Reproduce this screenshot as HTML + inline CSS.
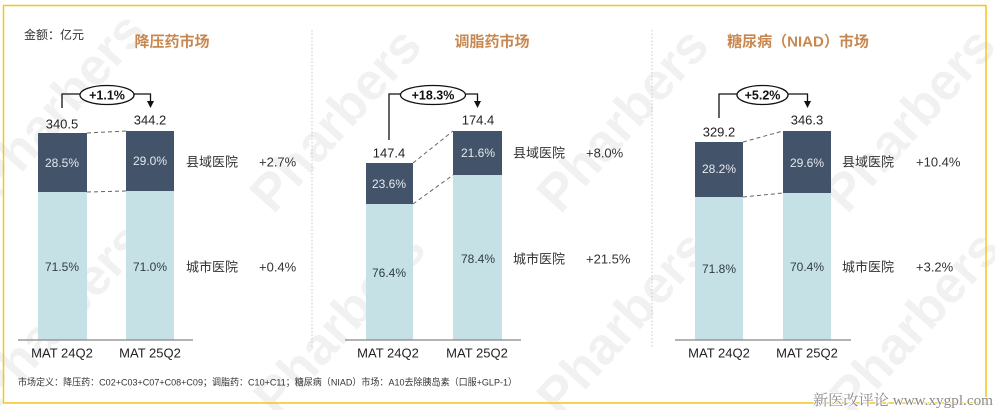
<!DOCTYPE html>
<html><head><meta charset="utf-8"><style>
html,body{margin:0;padding:0;background:#fff;}
svg{display:block;}
text{font-family:"Liberation Sans","Noto Sans CJK SC",sans-serif;}
</style></head><body>
<svg width="995" height="410" viewBox="0 0 995 410" xmlns="http://www.w3.org/2000/svg">
<rect width="995" height="410" fill="#fff"/>
<!-- watermarks -->
<g fill="#000" fill-opacity="0.055" font-weight="bold" font-size="52" text-anchor="middle" dominant-baseline="central">
<text transform="translate(60,105) rotate(-48)">Pharbers</text>
<text transform="translate(60,315) rotate(-48)">Pharbers</text>
<text transform="translate(336,120) rotate(-48)">Pharbers</text>
<text transform="translate(340,323) rotate(-48)">Pharbers</text>
<text transform="translate(623,120) rotate(-48)">Pharbers</text>
<text transform="translate(623,323) rotate(-48)">Pharbers</text>
<text transform="translate(910,120) rotate(-48)">Pharbers</text>
<text transform="translate(915,323) rotate(-48)">Pharbers</text>
</g>
<!-- frame -->
<rect x="3.5" y="5.5" width="982.5" height="397.5" fill="none" stroke="#f5c518" stroke-width="1.5"/>
<!-- separators -->
<line x1="312" y1="30" x2="312" y2="348" stroke="#c8c8c8" stroke-width="1" stroke-dasharray="1.5 2"/>
<line x1="652" y1="30" x2="652" y2="348" stroke="#c8c8c8" stroke-width="1" stroke-dasharray="1.5 2"/>

<text x="24" y="35" font-size="12" fill="#333" dominant-baseline="central">金额：亿元</text>

<!-- ===== Panel 1 ===== -->
<text x="172" y="42" font-size="15" font-weight="bold" fill="#c8874f" text-anchor="middle" dominant-baseline="central">降压药市场</text>
<rect x="38" y="133" width="49" height="59" fill="#435369"/>
<rect x="38" y="192" width="49" height="148" fill="#c6e1e6"/>
<rect x="126" y="131" width="48" height="60" fill="#435369"/>
<rect x="126" y="191" width="48" height="149" fill="#c6e1e6"/>
<line x1="87" y1="133" x2="126" y2="131" stroke="#666" stroke-dasharray="4 3"/>
<line x1="87" y1="192" x2="126" y2="191" stroke="#666" stroke-dasharray="4 3"/>
<line x1="18" y1="340" x2="193" y2="340" stroke="#888" stroke-width="1.2"/>
<g font-size="13" fill="#222" text-anchor="middle" dominant-baseline="central">
<text x="62" y="124">340.5</text><text x="150" y="120">344.2</text>
<text x="62" y="353">MAT 24Q2</text><text x="150" y="353">MAT 25Q2</text>
</g>
<g font-size="12" text-anchor="middle" dominant-baseline="central">
<text x="62" y="163" fill="#e4e9ef">28.5%</text><text x="150" y="161" fill="#e4e9ef">29.0%</text>
<text x="62" y="267" fill="#2f3b48">71.5%</text><text x="150" y="267" fill="#2f3b48">71.0%</text>
</g>
<g font-size="13" fill="#333" dominant-baseline="central">
<text x="186" y="162">县域医院</text><text x="259" y="162">+2.7%</text>
<text x="186" y="267">城市医院</text><text x="259" y="267">+0.4%</text>
</g>
<g stroke="#111" stroke-width="1.3" fill="none">
<polyline points="62,108 62,94 80,94"/>
<ellipse cx="107" cy="95" rx="27" ry="9.5" fill="#fff"/>
<polyline points="134,94 150.5,94 150.5,102"/>
</g>
<polygon points="147,101 154,101 150.5,108" fill="#111"/>
<text x="107" y="95.5" font-size="12.5" font-weight="bold" fill="#111" text-anchor="middle" dominant-baseline="central">+1.1%</text>

<!-- ===== Panel 2 ===== -->
<text x="492" y="42" font-size="15" font-weight="bold" fill="#c8874f" text-anchor="middle" dominant-baseline="central">调脂药市场</text>
<rect x="366" y="163" width="47" height="41" fill="#435369"/>
<rect x="366" y="204" width="47" height="136" fill="#c6e1e6"/>
<rect x="453" y="131" width="49" height="44" fill="#435369"/>
<rect x="453" y="175" width="49" height="165" fill="#c6e1e6"/>
<line x1="413" y1="163" x2="453" y2="131" stroke="#666" stroke-dasharray="4 3"/>
<line x1="413" y1="204" x2="453" y2="175" stroke="#666" stroke-dasharray="4 3"/>
<line x1="345" y1="340" x2="521" y2="340" stroke="#888" stroke-width="1.2"/>
<g font-size="13" fill="#222" text-anchor="middle" dominant-baseline="central">
<text x="389" y="153">147.4</text><text x="478" y="120">174.4</text>
<text x="388" y="353">MAT 24Q2</text><text x="477" y="353">MAT 25Q2</text>
</g>
<g font-size="12" text-anchor="middle" dominant-baseline="central">
<text x="389" y="184" fill="#e4e9ef">23.6%</text><text x="478" y="153" fill="#e4e9ef">21.6%</text>
<text x="389" y="273" fill="#2f3b48">76.4%</text><text x="478" y="259" fill="#2f3b48">78.4%</text>
</g>
<g font-size="13" fill="#333" dominant-baseline="central">
<text x="513" y="153">县域医院</text><text x="586" y="153">+8.0%</text>
<text x="513" y="259">城市医院</text><text x="586" y="259">+21.5%</text>
</g>
<g stroke="#111" stroke-width="1.3" fill="none">
<polyline points="389,140 389,94 401,94"/>
<ellipse cx="433" cy="95" rx="32.5" ry="9.5" fill="#fff"/>
<polyline points="465.5,94 477.5,94 477.5,102"/>
</g>
<polygon points="474,101 481,101 477.5,108" fill="#111"/>
<text x="433" y="95.5" font-size="12.5" font-weight="bold" fill="#111" text-anchor="middle" dominant-baseline="central">+18.3%</text>

<!-- ===== Panel 3 ===== -->
<text x="798" y="42" font-size="15" font-weight="bold" fill="#c8874f" text-anchor="middle" dominant-baseline="central">糖尿病（NIAD）市场</text>
<rect x="695" y="142" width="48" height="55" fill="#435369"/>
<rect x="695" y="197" width="48" height="143" fill="#c6e1e6"/>
<rect x="783" y="131" width="48" height="62" fill="#435369"/>
<rect x="783" y="193" width="48" height="147" fill="#c6e1e6"/>
<line x1="743" y1="142" x2="783" y2="131" stroke="#666" stroke-dasharray="4 3"/>
<line x1="743" y1="197" x2="783" y2="193" stroke="#666" stroke-dasharray="4 3"/>
<line x1="675" y1="340" x2="851" y2="340" stroke="#888" stroke-width="1.2"/>
<g font-size="13" fill="#222" text-anchor="middle" dominant-baseline="central">
<text x="719" y="132">329.2</text><text x="807" y="120">346.3</text>
<text x="719" y="353">MAT 24Q2</text><text x="807" y="353">MAT 25Q2</text>
</g>
<g font-size="12" text-anchor="middle" dominant-baseline="central">
<text x="719" y="169" fill="#e4e9ef">28.2%</text><text x="807" y="163" fill="#e4e9ef">29.6%</text>
<text x="719" y="269" fill="#2f3b48">71.8%</text><text x="807" y="267" fill="#2f3b48">70.4%</text>
</g>
<g font-size="13" fill="#333" dominant-baseline="central">
<text x="842" y="162">县域医院</text><text x="916" y="162">+10.4%</text>
<text x="842" y="267">城市医院</text><text x="916" y="267">+3.2%</text>
</g>
<g stroke="#111" stroke-width="1.3" fill="none">
<polyline points="719,118 719,94 737,94"/>
<ellipse cx="762.5" cy="95" rx="25.5" ry="9.5" fill="#fff"/>
<polyline points="788,94 807.5,94 807.5,102"/>
</g>
<polygon points="804,101 811,101 807.5,108" fill="#111"/>
<text x="762.5" y="95.5" font-size="12.5" font-weight="bold" fill="#111" text-anchor="middle" dominant-baseline="central">+5.2%</text>

<!-- footer -->
<text x="18" y="383" font-size="9.5" fill="#333" dominant-baseline="central" textLength="499" lengthAdjust="spacingAndGlyphs">市场定义：降压药：C02+C03+C07+C08+C09；调脂药：C10+C11；糖尿病（NIAD）市场：A10去除胰岛素（口服+GLP-1）</text>

<!-- site watermark -->
<text x="813" y="401" font-size="15" fill="#8a8a8a" stroke="#fff" stroke-width="2" paint-order="stroke" font-family="Liberation Serif, Noto Serif CJK SC, serif" dominant-baseline="central" textLength="180" lengthAdjust="spacingAndGlyphs" style="font-family:'Liberation Serif','Noto Serif CJK SC',serif">新医改评论 www.xygpl.com</text>
</svg>
</body></html>
